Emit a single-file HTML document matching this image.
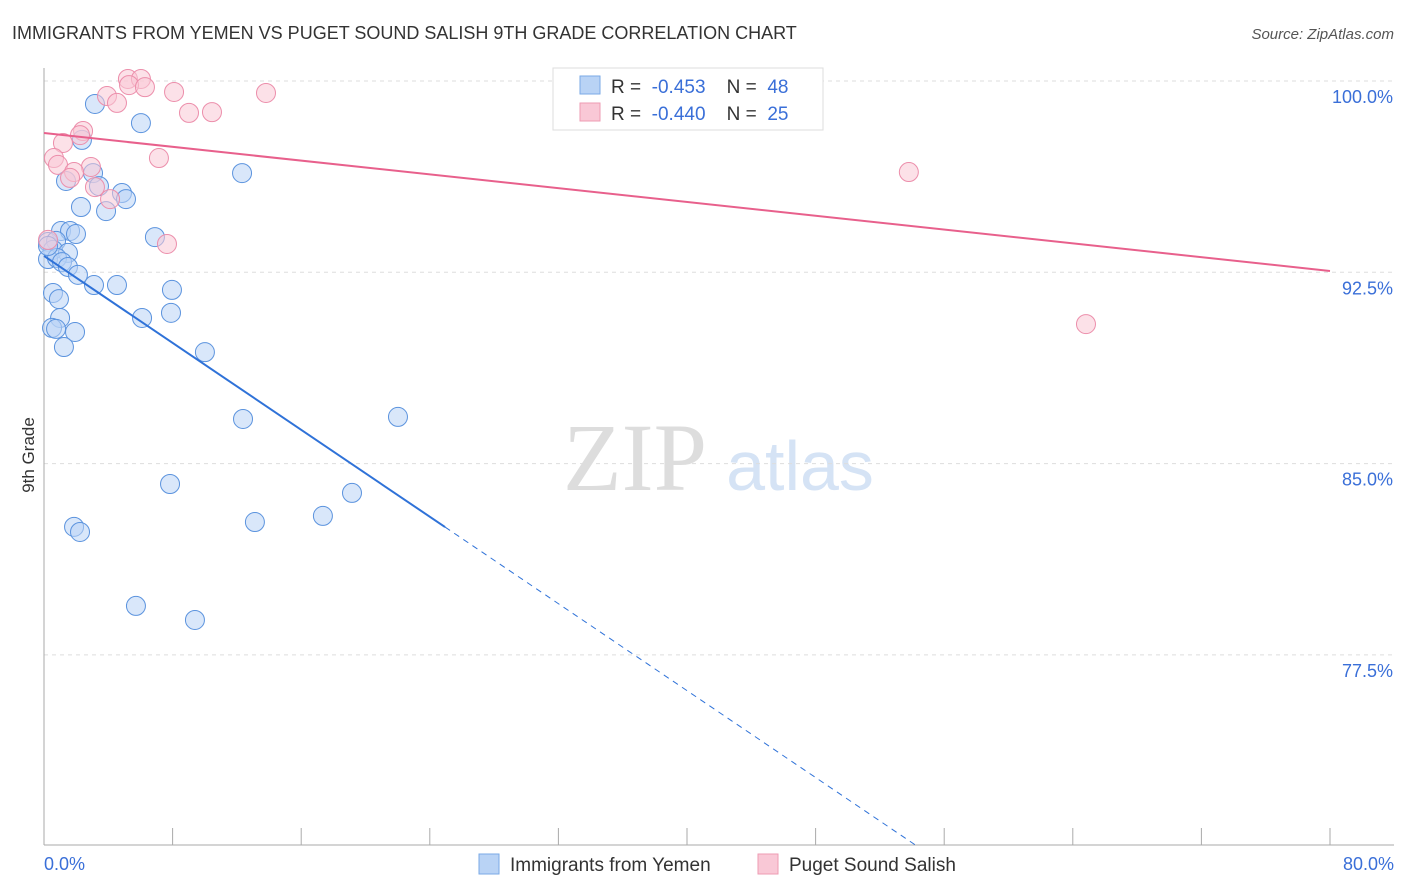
<!DOCTYPE html>
<html><head><meta charset="utf-8"><style>
body{margin:0;background:#fff;font-family:"Liberation Sans",sans-serif;}
svg{display:block}
text{white-space:pre}
</style></head><body>
<svg id="chart" width="1406" height="892">
<text x="12" y="39" font-size="18" fill="#333">IMMIGRANTS FROM YEMEN VS PUGET SOUND SALISH 9TH GRADE CORRELATION CHART</text>
<text x="1394" y="39" font-size="15" fill="#555" font-style="italic" text-anchor="end">Source: ZipAtlas.com</text>
<text x="0" y="0" transform="translate(34,455) rotate(-90)" font-size="17" fill="#333" text-anchor="middle">9th Grade</text>
<g><text x="635" y="490" font-size="96" fill="#ddd" font-family="Liberation Serif,serif" text-anchor="middle">ZIP</text><text x="800" y="490" font-size="70" fill="#d5e3f5" text-anchor="middle">atlas</text></g>
<g id="grid"></g><g id="marks"></g>
<g>
<rect x="553" y="68" width="270" height="62" fill="#fff" stroke="#ddd"/>
<rect x="580" y="76" width="20" height="18" fill="#b9d3f5" stroke="#7aa9e6"/>
<rect x="580" y="103" width="20" height="18" fill="#f9c8d6" stroke="#ee9bb3"/>
<text x="611" y="93" font-size="19" fill="#333" xml:space="preserve">R =  <tspan fill="#3a6fd8">-0.453</tspan>    N =  <tspan fill="#3a6fd8">48</tspan></text>
<text x="611" y="120" font-size="19" fill="#333" xml:space="preserve">R =  <tspan fill="#3a6fd8">-0.440</tspan>    N =  <tspan fill="#3a6fd8">25</tspan></text>
</g>
<g>
<rect x="479" y="854" width="20" height="20" fill="#b9d3f5" stroke="#7aa9e6"/>
<text x="510" y="871" font-size="19" fill="#333">Immigrants from Yemen</text>
<rect x="758" y="854" width="20" height="20" fill="#f9c8d6" stroke="#ee9bb3"/>
<text x="789" y="871" font-size="19" fill="#333">Puget Sound Salish</text>
</g>
</svg>
<script>
const yTicks=[100,92.5,85,77.5];
const yTickLabels=["100.0%","92.5%","85.0%","77.5%"];
const xTicks=[0,8,16,24,32,40,48,56,64,72,80];
const blueX=[3.17,6.03,2.36,12.32,3.05,1.37,3.42,4.85,5.10,2.30,3.86,1.06,1.62,1.99,6.90,0.25,0.75,0.56,1.49,0.25,0.81,1.12,1.49,2.11,3.11,4.54,7.96,0.56,0.93,6.10,7.90,1.00,0.50,0.75,1.93,1.24,10.01,12.38,22.02,7.84,19.16,13.12,17.35,1.87,2.24,5.72,9.39,0.25];
const blueY=[99.10,98.35,97.69,96.39,96.39,96.08,95.88,95.61,95.37,95.06,94.90,94.12,94.12,94.00,93.88,93.69,93.73,93.38,93.26,93.02,93.06,92.90,92.71,92.40,92.00,92.00,91.81,91.69,91.45,90.71,90.91,90.71,90.32,90.28,90.16,89.57,89.37,86.75,86.83,84.20,83.85,82.71,82.95,82.52,82.32,79.42,78.87,93.53];
const pinkX=[5.22,6.03,5.29,6.28,3.92,8.09,13.81,4.54,9.02,10.45,2.43,2.24,1.18,0.62,7.15,0.87,2.92,1.87,1.62,3.17,4.11,7.65,0.25,53.80,64.82];
const pinkY=[100.08,100.08,99.84,99.76,99.41,99.57,99.53,99.14,98.75,98.78,98.04,97.88,97.57,96.98,96.98,96.71,96.63,96.43,96.20,95.84,95.37,93.61,93.77,96.43,90.47];
const blueTrend=[93.14,-0.426];
const blueSolidEnd=[24.95];
const pinkTrend=[97.96,-0.0676];
const X0=44,X1=1330,Y0=81,YS=191.3/7.5;
const sx=v=>X0+(X1-X0)*v/80, sy=v=>Y0+(100-v)*YS;
const NS="http://www.w3.org/2000/svg";
function mk(p,t,a){const e=document.createElementNS(NS,t);for(const k in a)e.setAttribute(k,a[k]);p.appendChild(e);return e;}
const g=document.getElementById('grid'),m=document.getElementById('marks');
yTicks.forEach((v,i)=>{
 const l=mk(g,'line',{x1:44,x2:1394,y1:sy(v),y2:sy(v),stroke:'#ddd','stroke-dasharray':'4,4'});
 
 
 const t=mk(g,'text',{x:1393,y:sy(v)+22,'font-size':18,fill:'#3a6fd8','text-anchor':'end'});t.textContent=yTickLabels[i];
 
 
});
mk(g,'line',{x1:44,x2:44,y1:68,y2:845,stroke:'#aaa'});
mk(g,'line',{x1:44,x2:1394,y1:845,y2:845,stroke:'#aaa'});
xTicks.forEach(v=>{const l=mk(g,'line',{x1:sx(v),x2:sx(v),y1:828,y2:845,stroke:'#aaa'});
 
 });
let t=mk(g,'text',{x:44,y:870,'font-size':18,fill:'#3a6fd8'});t.textContent='0.0%';


t=mk(g,'text',{x:1394,y:870,'font-size':18,fill:'#3a6fd8','text-anchor':'end'});t.textContent='80.0%';


function dots(xs,ys,f,s,n){xs.forEach((x,i)=>{const c=mk(m,'circle',{cx:sx(x),cy:sy(ys[i]),r:9.5,fill:f,'fill-opacity':0.55,stroke:s,'stroke-width':1});
 
 });}
dots(blueX,blueY,'#b9d3f5','#5b93de','yemen-point');
dots(pinkX,pinkY,'#f9c8d6','#ec8eab','salish-point');
const bEnd=blueSolidEnd[0];
const bY=x=>blueTrend[0]+blueTrend[1]*x;
let l=mk(m,'line',{x1:sx(0),y1:sy(bY(0)),x2:sx(bEnd),y2:sy(bY(bEnd)),stroke:'#2f72d8','stroke-width':2});


const xEnd=(70-blueTrend[0])/blueTrend[1];
l=mk(m,'line',{x1:sx(bEnd),y1:sy(bY(bEnd)),x2:sx(xEnd),y2:sy(70),stroke:'#2f72d8','stroke-width':1,'stroke-dasharray':'6,5'});


l=mk(m,'line',{x1:sx(0),y1:sy(pinkTrend[0]),x2:sx(80),y2:sy(pinkTrend[0]+pinkTrend[1]*80),stroke:'#e8608c','stroke-width':2});


</script>
</body></html>
